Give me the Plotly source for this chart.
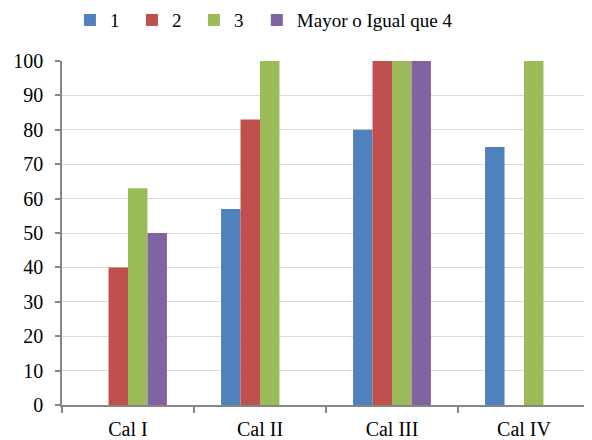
import plotly.graph_objects as go

categories = ["Cal I", "Cal II", "Cal III", "Cal IV"]
series_names = ["1", "2", "3", "Mayor o Igual que 4"]
s1 = [0, 57, 80, 75]
s2 = [40, 83, 100, 0]
s3 = [63, 100, 100, 100]
s4 = [50, 0, 100, 0]
colors = ["#4F81BD", "#C0504D", "#9BBB59", "#8064A2"]
y_ticks = [0, 10, 20, 30, 40, 50, 60, 70, 80, 90, 100]

fig = go.Figure()
for i, (name, vals, col) in enumerate(zip(series_names, [s1, s2, s3, s4], colors)):
    fig.add_trace(go.Bar(x=categories, y=vals, name=name,
                         legend="legend2" if i == 3 else "legend",
                         marker=dict(color=col, line=dict(width=0))))

font = "Liberation Serif, Times New Roman, serif"
fig.update_layout(
    width=584, height=432,
    margin=dict(l=54, r=2, t=53, b=35),
    paper_bgcolor="white", plot_bgcolor="white",
    barmode="group", bargap=0.41, bargroupgap=0,
    font=dict(family=font, size=20, color="black"),
    legend=dict(orientation="h", x=0.015, xanchor="left", y=0.972, yref="container",
                yanchor="middle", itemwidth=30, entrywidth=17, entrywidthmode="pixels",
                font=dict(size=19), itemclick=False, bgcolor="rgba(0,0,0,0)"),
    legend2=dict(orientation="h", x=0.369, xanchor="left", y=0.972, yref="container",
                 yanchor="middle", itemwidth=30, font=dict(size=19), itemclick=False,
                 bgcolor="rgba(0,0,0,0)"),
    xaxis=dict(type="category", showline=True, linecolor="#868686", linewidth=1.5,
               ticks="outside", tickson="boundaries", ticklen=6, tickcolor="#868686",
               tickwidth=1.5, showgrid=False, tickfont=dict(size=20), automargin=False,
               ticklabelstandoff=5),
    yaxis=dict(range=[0, 100], tickvals=y_ticks, showline=True, linecolor="#868686",
               linewidth=1.5, ticks="outside", ticklen=5, tickcolor="#868686",
               tickwidth=1.5, showgrid=True, gridcolor="#D9D9D9", gridwidth=1,
               zeroline=False, tickfont=dict(size=20), automargin=False,
               ticklabelstandoff=8),
)
fig.write_html("out.html")
